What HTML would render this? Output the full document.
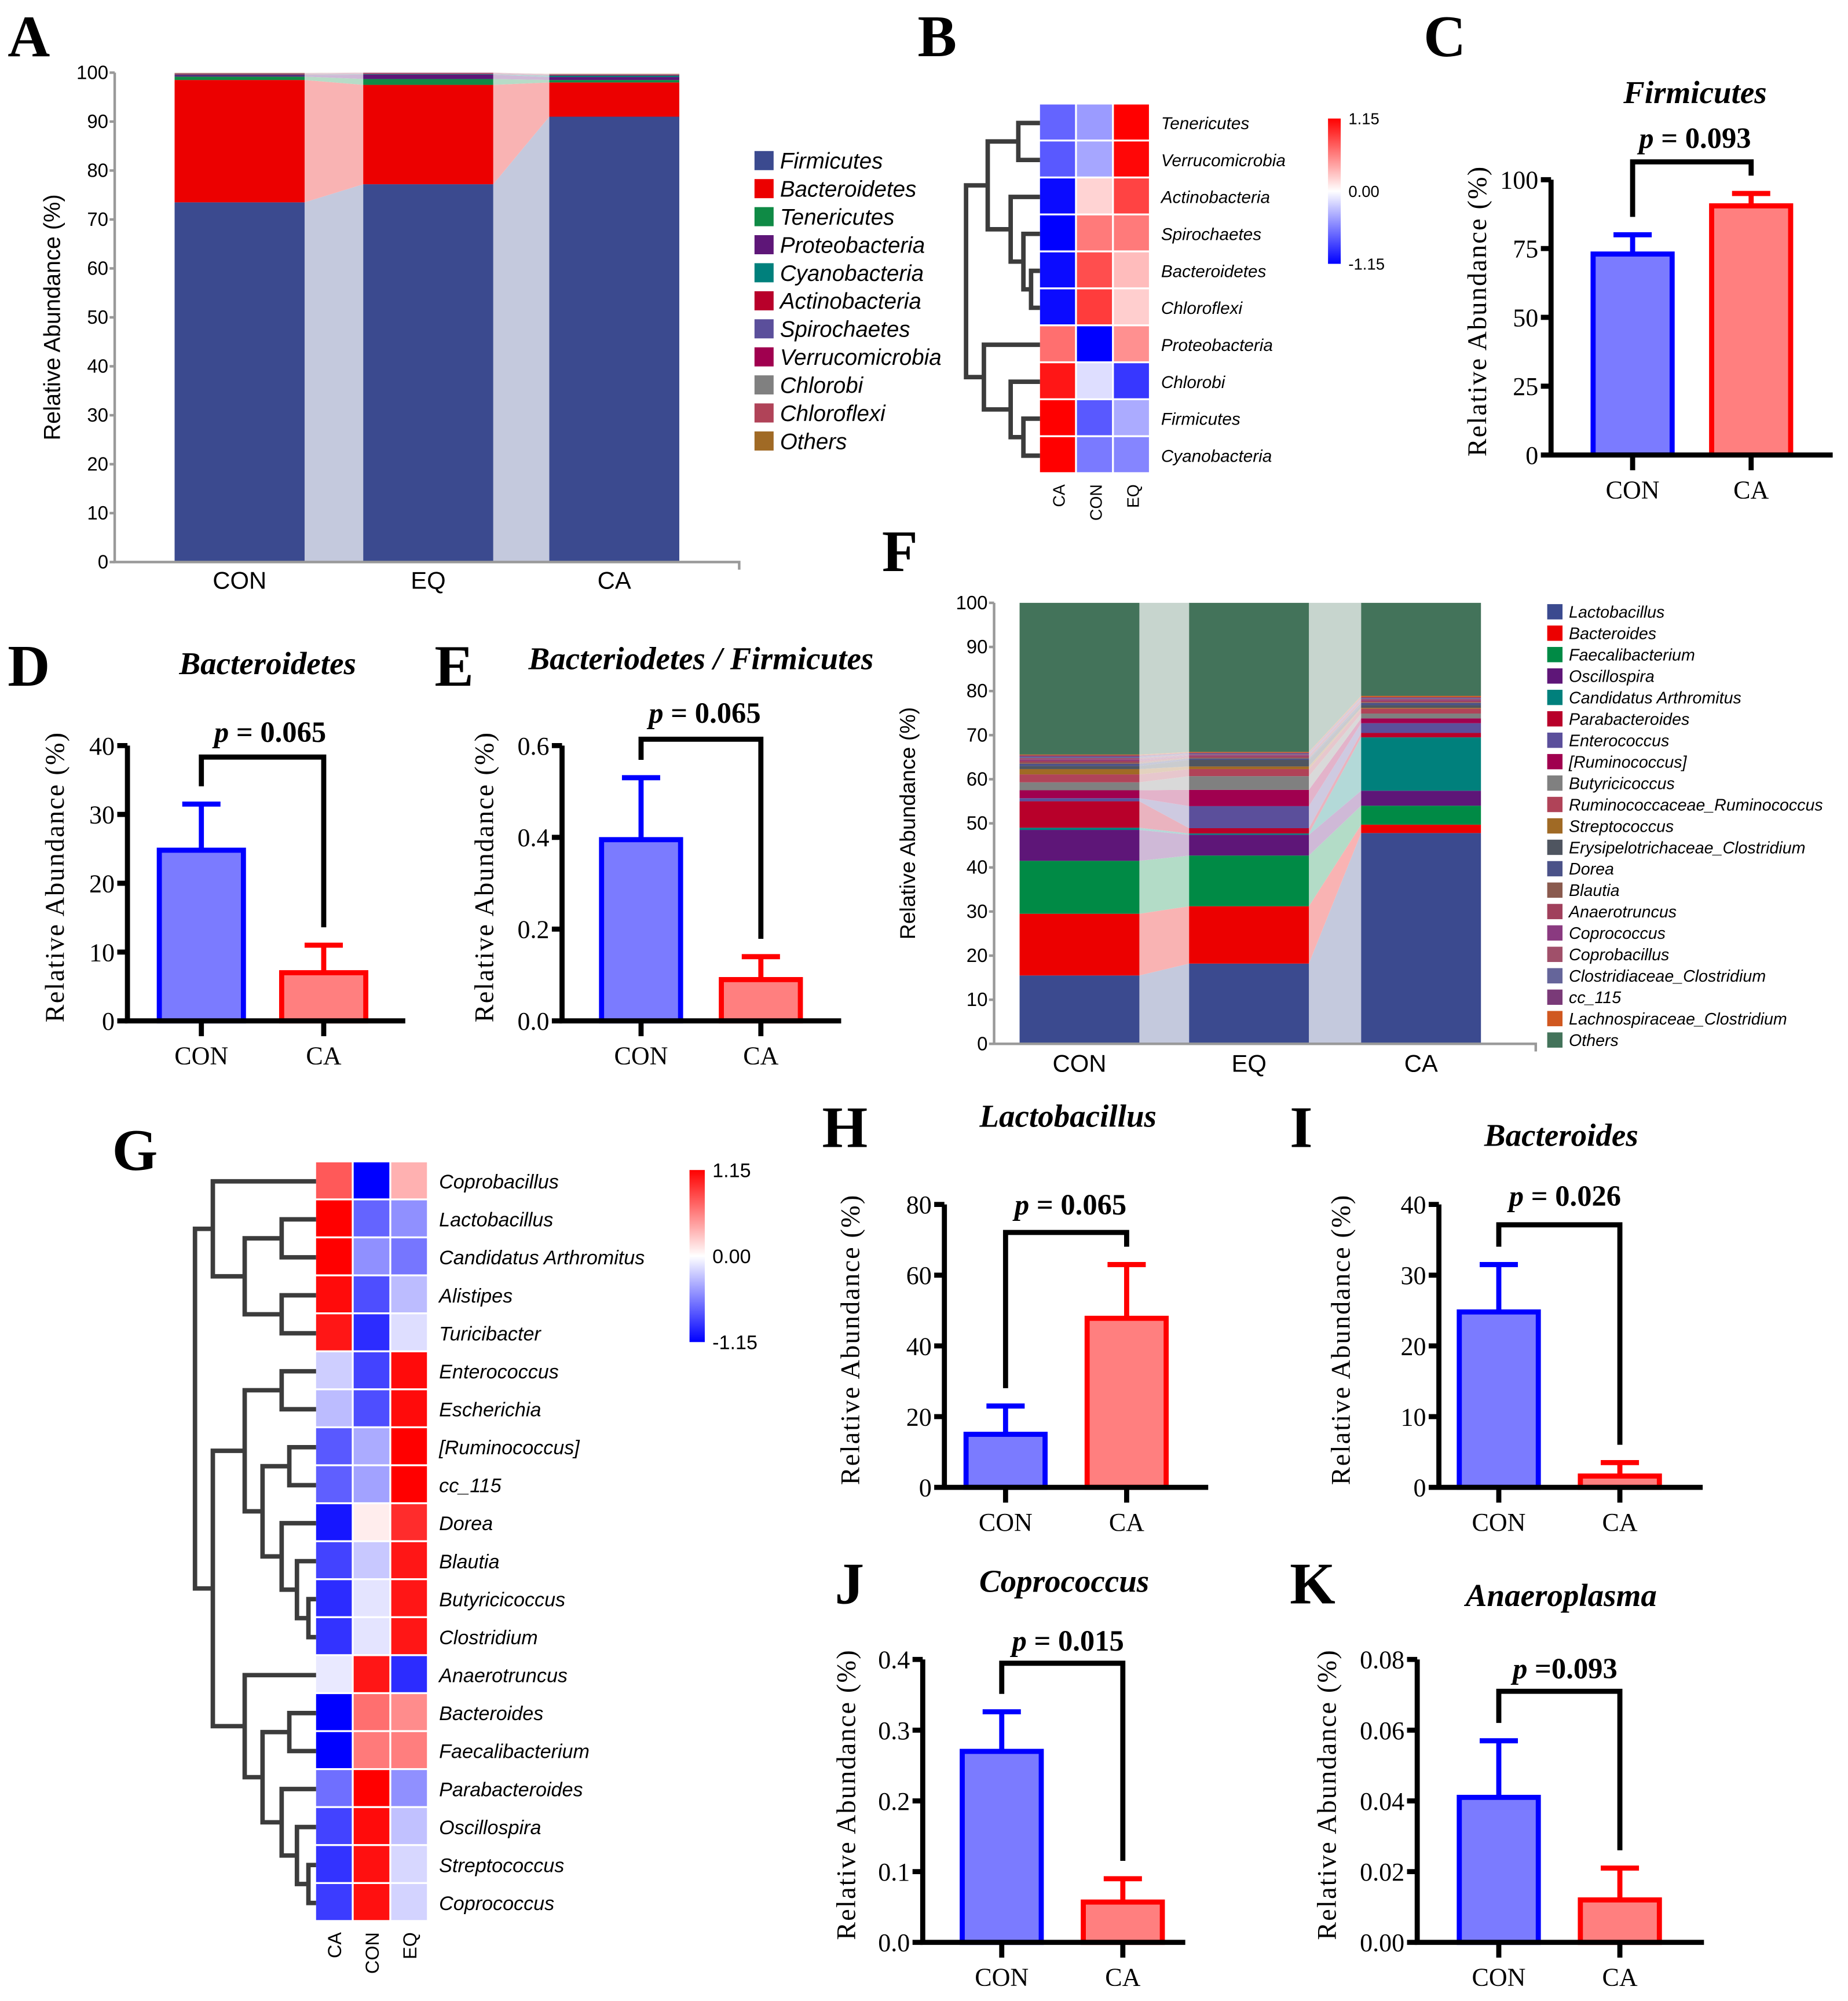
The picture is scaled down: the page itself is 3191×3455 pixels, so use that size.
<!DOCTYPE html>
<html><head><meta charset="utf-8"><style>
html,body{margin:0;padding:0;background:#fff}
svg{display:block}
.serif{font-family:"Liberation Serif",serif}
.sans{font-family:"Liberation Sans",sans-serif}
</style></head><body>
<svg id="fig" xmlns="http://www.w3.org/2000/svg" width="3191" height="3455" viewBox="0 0 1450 1570" preserveAspectRatio="none">
<rect x="0" y="0" width="1450" height="1570" fill="#fff"/>
<g class="serif" font-weight="bold" font-size="46" fill="#000">
<text x="6" y="44">A</text>
<text x="720" y="44">B</text>
<text x="1117" y="44">C</text>
<text x="6" y="538">D</text>
<text x="341" y="538">E</text>
<text x="692" y="448">F</text>
<text x="88" y="918">G</text>
<text x="645" y="900">H</text>
<text x="1012" y="900">I</text>
<text x="655" y="1258">J</text>
<text x="1012" y="1258">K</text>
</g>
</svg>
<script>
// ---------- DATA ----------
const aGroups = ["CON","EQ","CA"];
const aTaxa = ["Firmicutes","Bacteroidetes","Tenericutes","Proteobacteria","Cyanobacteria","Actinobacteria","Spirochaetes","Verrucomicrobia","Chlorobi","Chloroflexi","Others"];
const aFirmicutes = [73.5,77.2,91];
const aBacteroidetes = [25,20.3,7];
const aTenericutes = [0.7,1.2,0.5];
const aProteobacteria = [0.3,0.9,0.6];
const aCyanobacteria = [0.1,0.1,0.3];
const aActinobacteria = [0.1,0.1,0.1];
const aSpirochaetes = [0.05,0.05,0.05];
const aVerrucomicrobia = [0.05,0.05,0.05];
const aChlorobi = [0.05,0.05,0.05];
const aChloroflexi = [0.05,0.05,0.05];
const aOthers = [0.05,0.05,0.05];
const aTicks = [0,10,20,30,40,50,60,70,80,90,100];

const bRows = ["Tenericutes","Verrucomicrobia","Actinobacteria","Spirochaetes","Bacteroidetes","Chloroflexi","Proteobacteria","Chlorobi","Firmicutes","Cyanobacteria"];
const bCols = ["CA","CON","EQ"];
const bCA = [-0.7,-0.75,-1.1,-1.15,-1.1,-1.1,0.65,1.05,1.15,1.15];
const bCON = [-0.45,-0.4,0.2,0.6,0.8,0.88,-1.15,-0.15,-0.75,-0.6];
const bEQ = [1.15,1.12,0.85,0.6,0.3,0.22,0.5,-0.9,-0.38,-0.55];

const fGroups = ["CON","EQ","CA"];
const fTaxa = ["Lactobacillus","Bacteroides","Faecalibacterium","Oscillospira","Candidatus Arthromitus","Parabacteroides","Enterococcus","[Ruminococcus]","Butyricicoccus","Ruminococcaceae_Ruminococcus","Streptococcus","Erysipelotrichaceae_Clostridium","Dorea","Blautia","Anaerotruncus","Coprococcus","Coprobacillus","Clostridiaceae_Clostridium","cc_115","Lachnospiraceae_Clostridium","Others"];
const fCON = [15.5,14,12,7,0.5,6,0.7,1.8,1.8,1.8,1.2,0.7,0.5,0.3,0.4,0.3,0.3,0.3,0.3,0.2,34.4];
const fEQ = [18.2,13,11.5,4.7,0.3,1.2,5,3.7,3.1,1.6,0.6,1.5,0.3,0.2,0.3,0.2,0.2,0.2,0.2,0.2,33.9];
const fCA = [47.8,1.9,4.3,3.4,12.1,1,2.2,1.1,1.1,1.1,0.2,0.6,0.5,0.2,0.3,0.2,0.2,0.2,0.2,0.3,21.1];

const gRows = ["Coprobacillus","Lactobacillus","Candidatus Arthromitus","Alistipes","Turicibacter","Enterococcus","Escherichia","[Ruminococcus]","cc_115","Dorea","Blautia","Butyricicoccus","Clostridium","Anaerotruncus","Bacteroides","Faecalibacterium","Parabacteroides","Oscillospira","Streptococcus","Coprococcus"];
const gCA = [0.75,1.15,1.15,1.1,1.05,-0.22,-0.3,-0.75,-0.72,-1.05,-0.85,-0.95,-0.92,-0.1,-1.15,-1.15,-0.65,-0.85,-0.92,-0.88];
const gCON = [-1.15,-0.7,-0.5,-0.8,-0.95,-0.85,-0.8,-0.38,-0.42,0.08,-0.25,-0.12,-0.12,1.05,0.65,0.6,1.15,1.1,1.08,1.08];
const gEQ = [0.35,-0.5,-0.62,-0.3,-0.15,1.1,1.1,1.15,1.15,0.95,1.05,1.05,1.05,-0.95,0.52,0.58,-0.5,-0.28,-0.18,-0.2];

const barGroups = ["CON","CA"];
const cVals = [73,90.5]; const cErr = [80,95];
const dVals = [24.8,7]; const dErr = [31.5,11];
const eVals = [0.395,0.09]; const eErr = [0.53,0.14];
const hVals = [15,47.8]; const hErr = [23,63];
const iVals = [24.8,1.6]; const iErr = [31.5,3.5];
const jVals = [0.27,0.057]; const jErr = [0.326,0.09];
const kVals = [0.041,0.012]; const kErr = [0.057,0.021];
const cTicks=[0,25,50,75,100], dTicks=[0,10,20,30,40], eTicks=[0,0.2,0.4,0.6], hTicks=[0,20,40,60,80], iTicks=[0,10,20,30,40], jTicks=[0,0.1,0.2,0.3,0.4], kTicks=[0,0.02,0.04,0.06,0.08];

// ---------- HELPERS ----------
const NS="http://www.w3.org/2000/svg";
const svg=document.getElementById('fig');
function mk(tag,attrs,parent){const e=document.createElementNS(NS,tag);for(const k in attrs)e.setAttribute(k,attrs[k]);(parent||svg).appendChild(e);return e;}
function txt(s,attrs,parent){const e=mk('text',attrs,parent);e.textContent=s;return e;}
function heat(v){let t=Math.max(-1,Math.min(1,v/1.15));if(t>=0){const c=Math.round(255*(1-t));return `rgb(255,${c},${c})`;}const c=Math.round(255*(1+t));return `rgb(${c},${c},255)`;}
function light(hex,a){const r=parseInt(hex.slice(1,3),16),g=parseInt(hex.slice(3,5),16),b=parseInt(hex.slice(5,7),16);const m=x=>Math.round(x*a+255*(1-a));return `rgb(${m(r)},${m(g)},${m(b)})`;}

// ---------- STACKED CHART ----------
function stacked(o){
  const g=mk('g',{});
  
  
  const ys=v=>o.y0-(v/100)*(o.y0-o.yTop);
  for(let i=0;i<o.groups.length-1;i++){
    let c1=0,c2=0;
    o.series.forEach((s,k)=>{
      const a0=c1,a1=c1+s[i],b0=c2,b1=c2+s[i+1];c1=a1;c2=b1;
      const p=mk('polygon',{points:`${o.bx[i]+o.bw},${ys(Math.min(a0,100))} ${o.bx[i]+o.bw},${ys(Math.min(a1,100))} ${o.bx[i+1]},${ys(Math.min(b1,100))} ${o.bx[i+1]},${ys(Math.min(b0,100))}`,fill:light(o.colors[k],0.3)},g);
      
      
    });
  }
  o.groups.forEach((grp,i)=>{
    let c=0;
    o.series.forEach((s,k)=>{
      const y1=ys(Math.min(c+s[i],100)),y0=ys(Math.min(c,100));c+=s[i];
      const r=mk('rect',{x:o.bx[i],y:y1,width:o.bw,height:Math.max(0,y0-y1),fill:o.colors[k]},g);
      
      
    });
    const t=txt(grp,{x:o.bx[i]+o.bw/2,y:o.y0+o.xlabDy,'text-anchor':'middle','font-size':o.xfs,class:'sans'},g);
    
    
  });
  const ax=mk('path',{d:`M${o.ax},${o.yTop} V${o.y0} H${o.axEnd} v6`,stroke:'#999',fill:'none','stroke-width':2},g);
  
  
  o.ticks.forEach(t=>{
    const y=ys(t);
    mk('line',{x1:o.ax-4,x2:o.ax,y1:y,y2:y,stroke:'#999','stroke-width':2},g);
    const l=txt(String(t),{x:o.ax-5,y:y+5,'text-anchor':'end','font-size':15,class:'sans'},g);
    
    
  });
  const yl=txt('Relative Abundance (%)',{x:0,y:0,'text-anchor':'middle','font-size':o.ylfs,class:'sans',transform:`translate(${o.ylx},${(o.y0+o.yTop)/2}) rotate(-90)`},g);
  
  
  o.taxa.forEach((tx,k)=>{
    const y=o.legY+k*o.legStep;
    const r=mk('rect',{x:o.legX,y:y-o.legBox/2,width:o.legBox,height:o.legBox,fill:o.colors[k]},g);
    
    
    const t=txt(tx,{x:o.legX+o.legBox+5,y:y+o.legFs*0.36,'font-size':o.legFs,'font-style':'italic',class:'sans'},g);
    
    
  });
}
stacked({name:'chart-a-phylum',groups:aGroups,taxa:aTaxa,
  series:[aFirmicutes,aBacteroidetes,aTenericutes,aProteobacteria,aCyanobacteria,aActinobacteria,aSpirochaetes,aVerrucomicrobia,aChlorobi,aChloroflexi,aOthers],
  colors:['#3b4a8f','#ec0000','#0f8a45','#5e1678','#00807c','#b8002a','#5b4f9b','#a0004f','#808080','#b04358','#a06a25'],
  bx:[137,285,431],bw:102,y0:441,yTop:57,ax:90,axEnd:580,ticks:aTicks,xlabDy:21,xfs:19,ylx:47,ylfs:18,
  legX:592,legY:126,legStep:22,legBox:15,legFs:17.5});
stacked({name:'chart-f-genus',groups:fGroups,taxa:fTaxa,series:fTaxa.map((t,k)=>[fCON[k],fEQ[k],fCA[k]]),
  colors:['#3b4a8f','#ec0000','#008a45','#5e1678','#00807c','#b8002a','#5b4f9b','#a0004f','#808080','#b04358','#a06a25','#4f5560','#4b5288','#8a5a4e','#a0405c','#8a3a80','#a0506a','#65659a','#7a3a78','#d05820','#43735a'],
  bx:[800,933,1068],bw:94,y0:819,yTop:473,ax:780,axEnd:1205,ticks:aTicks,xlabDy:22,xfs:19,ylx:718,ylfs:17,
  legX:1214,legY:480,legStep:16.8,legBox:12,legFs:13});

// ---------- HEATMAPS ----------
function tree(node,rowY,g,x0){
  if(typeof node==='number') return {y:rowY(node),x:x0};
  const a=tree(node.c[0],rowY,g,x0),b=tree(node.c[1],rowY,g,x0);
  const p=mk('path',{d:`M${a.x},${a.y} H${node.x} V${b.y} H${b.x}`,fill:'none',stroke:'#3c3c3c','stroke-width':3.5},g);
  
  
  return {y:(a.y+b.y)/2,x:node.x};
}
function heatmap(o){
  const g=mk('g',{});
  
  
  const rowY=i=>o.y+o.h*(i+0.5);
  o.rows.forEach((rn,i)=>{
    o.cols.forEach((cn,j)=>{
      const r=mk('rect',{x:o.x+j*o.w,y:o.y+i*o.h,width:o.w-1.5,height:o.h-1.5,fill:heat(o.data[j][i])},g);
      
      
    });
    const t=txt(rn,{x:o.x+3*o.w+8,y:rowY(i)+o.fs*0.36,'font-size':o.fs,'font-style':'italic',class:'sans'},g);
    
    
  });
  o.cols.forEach((cn,j)=>{
    const cx=o.x+j*o.w+o.w/2, cy=o.y+o.rows.length*o.h+8;
    const t=txt(cn,{x:0,y:0,'text-anchor':'end','font-size':o.fs*0.95,class:'sans',transform:`translate(${cx+5},${cy}) rotate(-90)`},g);
    
    
  });
  tree(o.tree,rowY,g,o.x);
  const defs=mk('defs',{},g);
  const lg=mk('linearGradient',{id:o.name+'-grad',x1:0,y1:0,x2:0,y2:1},defs);
  mk('stop',{offset:'0',  'stop-color':'#ff0000'},lg);
  mk('stop',{offset:'0.5','stop-color':'#ffffff'},lg);
  mk('stop',{offset:'1',  'stop-color':'#0000ff'},lg);
  const cb=mk('rect',{x:o.cbx,y:o.cby,width:o.cbw,height:o.cbh,fill:`url(#${o.name}-grad)`},g);
  
  
  [['1.15',0],['0.00',0.5],['-1.15',1]].forEach(([s,f])=>{
    const t=txt(s,{x:o.cbx+o.cbw+6,y:o.cby+f*o.cbh+o.cbfs*0.36,'font-size':o.cbfs,class:'sans'},g);
    
    
  });
}
heatmap({name:'heatmap-b-phylum',rows:bRows,cols:bCols,data:[bCA,bCON,bEQ],x:816,y:82,w:29,h:29,fs:13.5,
  tree:{x:758,c:[{x:775,c:[{x:799,c:[0,1]},{x:793,c:[2,{x:803,c:[3,{x:809,c:[4,5]}]}]}]},{x:772,c:[6,{x:793,c:[7,{x:803,c:[8,9]}]}]}]},
  cbx:1042,cby:93,cbw:10,cbh:114,cbfs:12.5});
heatmap({name:'heatmap-g-genus',rows:gRows,cols:bCols,data:[gCA,gCON,gEQ],x:248,y:912,w:29.5,h:29.8,fs:15.5,
  tree:{x:153,c:[{x:167,c:[0,{x:192,c:[{x:221,c:[1,2]},{x:221,c:[3,4]}]}]},
    {x:167,c:[{x:192,c:[{x:221,c:[5,6]},{x:206,c:[{x:227,c:[7,8]},{x:221,c:[9,{x:233,c:[10,{x:242,c:[11,12]}]}]}]}]},
      {x:192,c:[13,{x:206,c:[{x:227,c:[14,15]},{x:221,c:[16,{x:233,c:[17,{x:242,c:[18,19]}]}]}]}]}]}]},
  cbx:541,cby:918,cbw:12,cbh:135,cbfs:15.5});

// ---------- BAR PANELS ----------
function barPanel(o){
  const g=mk('g',{class:'serif'});
  
  
  const ys=v=>o.y0-(v/o.max)*(o.y0-o.yTop);
  const cols=[['#7b7bff','#0000ff'],['#ff7f7f','#ff0000']];
  const errY=[];
  barGroups.forEach((grp,i)=>{
    const cx=o.cx[i],top=ys(o.vals[i]),et=ys(o.err[i]);errY.push(et);
    const e=mk('path',{d:`M${cx},${top} V${et} M${cx-15},${et} H${cx+15}`,stroke:cols[i][1],'stroke-width':4,fill:'none'},g);
    
    
    const r=mk('rect',{x:cx-o.bw/2,y:top,width:o.bw,height:o.y0-top,fill:cols[i][0],stroke:cols[i][1],'stroke-width':4},g);
    
    
    mk('line',{x1:cx,x2:cx,y1:o.y0,y2:o.y0+12,stroke:'#000','stroke-width':4},g);
    const t=txt(grp,{x:cx,y:o.y0+34,'text-anchor':'middle','font-size':20},g);
    
    
  });
  const ax=mk('path',{d:`M${o.ax},${o.yTop} V${o.y0} H${o.axEnd}`,stroke:'#000','stroke-width':4,fill:'none'},g);
  
  
  o.ticks.forEach(t=>{
    const y=ys(t);
    mk('line',{x1:o.ax-8,x2:o.ax,y1:y,y2:y,stroke:'#000','stroke-width':4},g);
    const l=txt(o.fmt(t),{x:o.ax-10,y:y+7,'text-anchor':'end','font-size':20},g);
    
    
  });
  const yl=txt('Relative Abundance (%)',{x:0,y:0,'text-anchor':'middle','font-size':21,'letter-spacing':1,transform:`translate(${o.ylx},${(o.y0+o.yTop)/2-5}) rotate(-90)`},g);
  
  
  const br=mk('path',{d:`M${o.cx[0]},${errY[0]-14} V${o.by} H${o.cx[1]} V${errY[1]-14}`,stroke:'#000','stroke-width':4,fill:'none'},g);
  
  
  const ti=txt(o.title,{x:o.tx,y:o.ty,'text-anchor':'middle','font-size':25,'font-weight':'bold','font-style':'italic'},g);
  
  
  const p=mk('text',{x:o.px,y:o.py,'text-anchor':'middle','font-size':23,'font-weight':'bold'},g);
  
  
  const ts=mk('tspan',{'font-style':'italic'},p);ts.textContent='p';
  const t2=mk('tspan',{},p);t2.textContent=o.ptxt;
}
const f0=t=>String(t), f1=t=>t.toFixed(1), f2=t=>t.toFixed(2);
barPanel({name:'chart-c-firmicutes',vals:cVals,err:cErr,ticks:cTicks,fmt:f0,max:100,ax:1217,axEnd:1438,y0:357,yTop:141,cx:[1281,1374],bw:62,by:127,title:'Firmicutes',tx:1330,ty:81,px:1330,py:116,ptxt:' = 0.093',ylx:1166});
barPanel({name:'chart-d-bacteroidetes',vals:dVals,err:dErr,ticks:dTicks,fmt:f0,max:40,ax:100,axEnd:318,y0:801,yTop:585,cx:[158,254],bw:66,by:594,title:'Bacteroidetes',tx:210,ty:529,px:212,py:582,ptxt:' = 0.065',ylx:50});
barPanel({name:'chart-e-ratio',vals:eVals,err:eErr,ticks:eTicks,fmt:f1,max:0.6,ax:441,axEnd:660,y0:801,yTop:585,cx:[503,597],bw:62,by:580,title:'Bacteriodetes / Firmicutes',tx:550,ty:525,px:553,py:567,ptxt:' = 0.065',ylx:387});
barPanel({name:'chart-h-lactobacillus',vals:hVals,err:hErr,ticks:hTicks,fmt:f0,max:80,ax:741,axEnd:948,y0:1167,yTop:945,cx:[789,884],bw:62,by:967,title:'Lactobacillus',tx:838,ty:884,px:840,py:953,ptxt:' = 0.065',ylx:674});
barPanel({name:'chart-i-bacteroides',vals:iVals,err:iErr,ticks:iTicks,fmt:f0,max:40,ax:1129,axEnd:1336,y0:1167,yTop:945,cx:[1176,1271],bw:62,by:961,title:'Bacteroides',tx:1225,ty:899,px:1228,py:946,ptxt:' = 0.026',ylx:1059});
barPanel({name:'chart-j-coprococcus',vals:jVals,err:jErr,ticks:jTicks,fmt:f1,max:0.4,ax:724,axEnd:930,y0:1524,yTop:1302,cx:[786,881],bw:62,by:1305,title:'Coprococcus',tx:835,ty:1249,px:838,py:1295,ptxt:' = 0.015',ylx:671});
barPanel({name:'chart-k-anaeroplasma',vals:kVals,err:kErr,ticks:kTicks,fmt:f2,max:0.08,ax:1112,axEnd:1337,y0:1524,yTop:1302,cx:[1176,1271],bw:62,by:1327,title:'Anaeroplasma',tx:1225,ty:1260,px:1228,py:1317,ptxt:' =0.093',ylx:1048});
</script>
</body></html>
